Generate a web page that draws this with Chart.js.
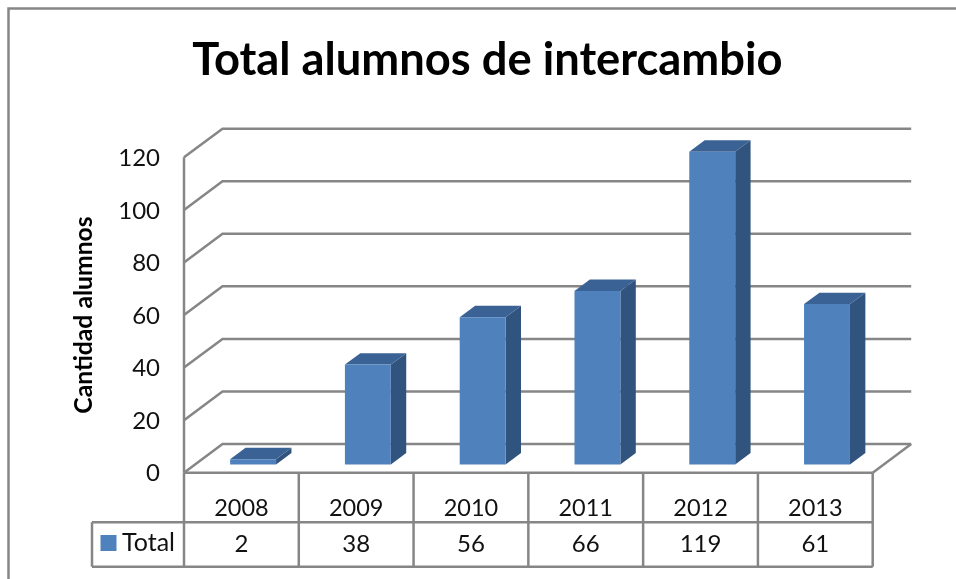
<!DOCTYPE html>
<html>
<head>
<meta charset="utf-8">
<style>
  html, body { margin: 0; padding: 0; background: #fff; overflow: hidden; }
  canvas { display: block; filter: blur(0.5px); }
</style>
<script src="https://cdn.jsdelivr.net/npm/chart.js@4"></script>
</head>
<body>
<canvas id="myChart" width="956" height="579"></canvas>
<script>
const year_labels = ["2008", "2009", "2010", "2011", "2012", "2013"];
const total_values = [2, 38, 56, 66, 119, 61];
const y_ticks = [0, 20, 40, 60, 80, 100, 120];
const series_name = "Total";

const line_color = "#868686";
const text_color = "#111";
const font_name = "Lato";

// fake 3D: how far the back wall and the bars sit from the front plane
const wall_dx = 38.5;
const wall_dy = -28.7;
const bar_shift_x = 11.7;
const bar_shift_y = -8.3;
const bar_dx = 15.4;
const bar_dy = -11.4;

function line(ctx, points) {
  ctx.beginPath();
  points.forEach((p, i) => (i ? ctx.lineTo(p[0], p[1]) : ctx.moveTo(p[0], p[1])));
  ctx.stroke();
}

function poly(ctx, points, color) {
  ctx.fillStyle = color;
  ctx.beginPath();
  points.forEach((p, i) => (i ? ctx.lineTo(p[0], p[1]) : ctx.moveTo(p[0], p[1])));
  ctx.closePath();
  ctx.fill();
}

const depth_plugin = {
  id: "depth",
  afterLayout(chart) {
    // the title is centred over the whole picture area, not the plot
    chart.titleBlock.left += 51;
    chart.titleBlock.right += 51;
  },
  beforeDatasetsDraw(chart) {
    const ctx = chart.ctx;
    const { x, y } = chart.scales;
    ctx.save();
    ctx.strokeStyle = line_color;
    ctx.lineWidth = 2.5;

    // outer frame, only left and top are visible
    line(ctx, [[8.5, 579], [8.5, 8.5], [956, 8.5]]);

    // walls and gridlines
    y_ticks.forEach((v) => {
      const py = y.getPixelForValue(v);
      line(ctx, [[x.left, py], [x.left + wall_dx, py + wall_dy], [x.right + wall_dx, py + wall_dy]]);
    });
    line(ctx, [[x.left, y.top], [x.left, y.bottom]]);
    line(ctx, [[x.right, y.bottom], [x.right + wall_dx, y.bottom + wall_dy]]);

    // data table
    const row1 = y.bottom + 49.5;
    const row2 = y.bottom + 94;
    const cell = x.width / year_labels.length;
    line(ctx, [[x.left, y.bottom], [x.right, y.bottom]]);
    line(ctx, [[92, row1], [x.right, row1]]);
    line(ctx, [[92, row2], [x.right, row2]]);
    line(ctx, [[92, row1], [92, row2]]);
    for (let i = 0; i <= year_labels.length; i++) {
      line(ctx, [[x.left + i * cell, y.bottom], [x.left + i * cell, row2]]);
    }

    ctx.fillStyle = text_color;
    ctx.font = "24px " + font_name;
    ctx.textAlign = "center";
    ctx.textBaseline = "middle";
    total_values.forEach((v, i) => {
      ctx.fillText(String(v), x.getPixelForValue(i), row1 + 22.5);
    });
    ctx.textAlign = "left";
    ctx.font = "25px " + font_name;
    ctx.fillText(series_name, 122, row1 + 20.5);
    ctx.fillStyle = "#4f81bd";
    ctx.fillRect(100.5, 535, 16, 16);

    // side and top faces of the bars
    chart.getDatasetMeta(0).data.forEach((bar) => {
      const left = bar.x - bar.width / 2 + bar_shift_x;
      const right = left + bar.width;
      const top = bar.y + bar_shift_y;
      const bottom = bar.base + bar_shift_y;
      poly(ctx, [[right, top], [right + bar_dx, top + bar_dy], [right + bar_dx, bottom + bar_dy], [right, bottom]], "#31547f");
      poly(ctx, [[left, top], [left + bar_dx, top + bar_dy], [right + bar_dx, top + bar_dy], [right, top]], "#3b6295");
    });
    ctx.restore();
  },
  beforeDatasetDraw(chart) {
    chart.ctx.save();
    chart.ctx.translate(bar_shift_x, bar_shift_y);
  },
  afterDatasetDraw(chart) {
    chart.ctx.restore();
  },
};

const chart_config = {
  type: "bar",
  data: {
    labels: year_labels,
    datasets: [
      {
        label: series_name,
        data: total_values,
        backgroundColor: "#4f81bd",
        categoryPercentage: 1,
        barPercentage: 0.4,
        clip: false,
      },
    ],
  },
  options: {
    responsive: false,
    animation: false,
    layout: { padding: { left: 0, right: 83.3, top: 0, bottom: 0 } },
    plugins: {
      legend: { display: false },
      tooltip: { enabled: false },
      title: {
        display: true,
        text: "Total alumnos de intercambio",
        color: "#000",
        font: { family: font_name, size: 45.3, weight: "bold", lineHeight: 1.2 },
        padding: { top: 33, bottom: 70 },
      },
    },
    scales: {
      x: {
        grid: { display: false },
        border: { display: false },
        ticks: { color: text_color, font: { family: font_name, size: 23.5 }, padding: 14 },
        afterFit(scale) {
          scale.height = 106.3;
        },
      },
      y: {
        min: 0,
        max: 120,
        grid: { display: false },
        border: { display: false },
        ticks: { stepSize: 20, color: text_color, font: { family: font_name, size: 24 }, padding: 16, labelOffset: 1 },
        title: {
          display: true,
          text: "Cantidad alumnos",
          color: "#000",
          font: { family: font_name, size: 24.7, weight: "bold" },
          padding: { top: 69, bottom: 0 },
        },
        afterFit(scale) {
          scale.width = 184;
        },
      },
    },
  },
  plugins: [depth_plugin],
};

var myChart = new Chart(document.getElementById("myChart"), chart_config);
</script>
</body>
</html>
